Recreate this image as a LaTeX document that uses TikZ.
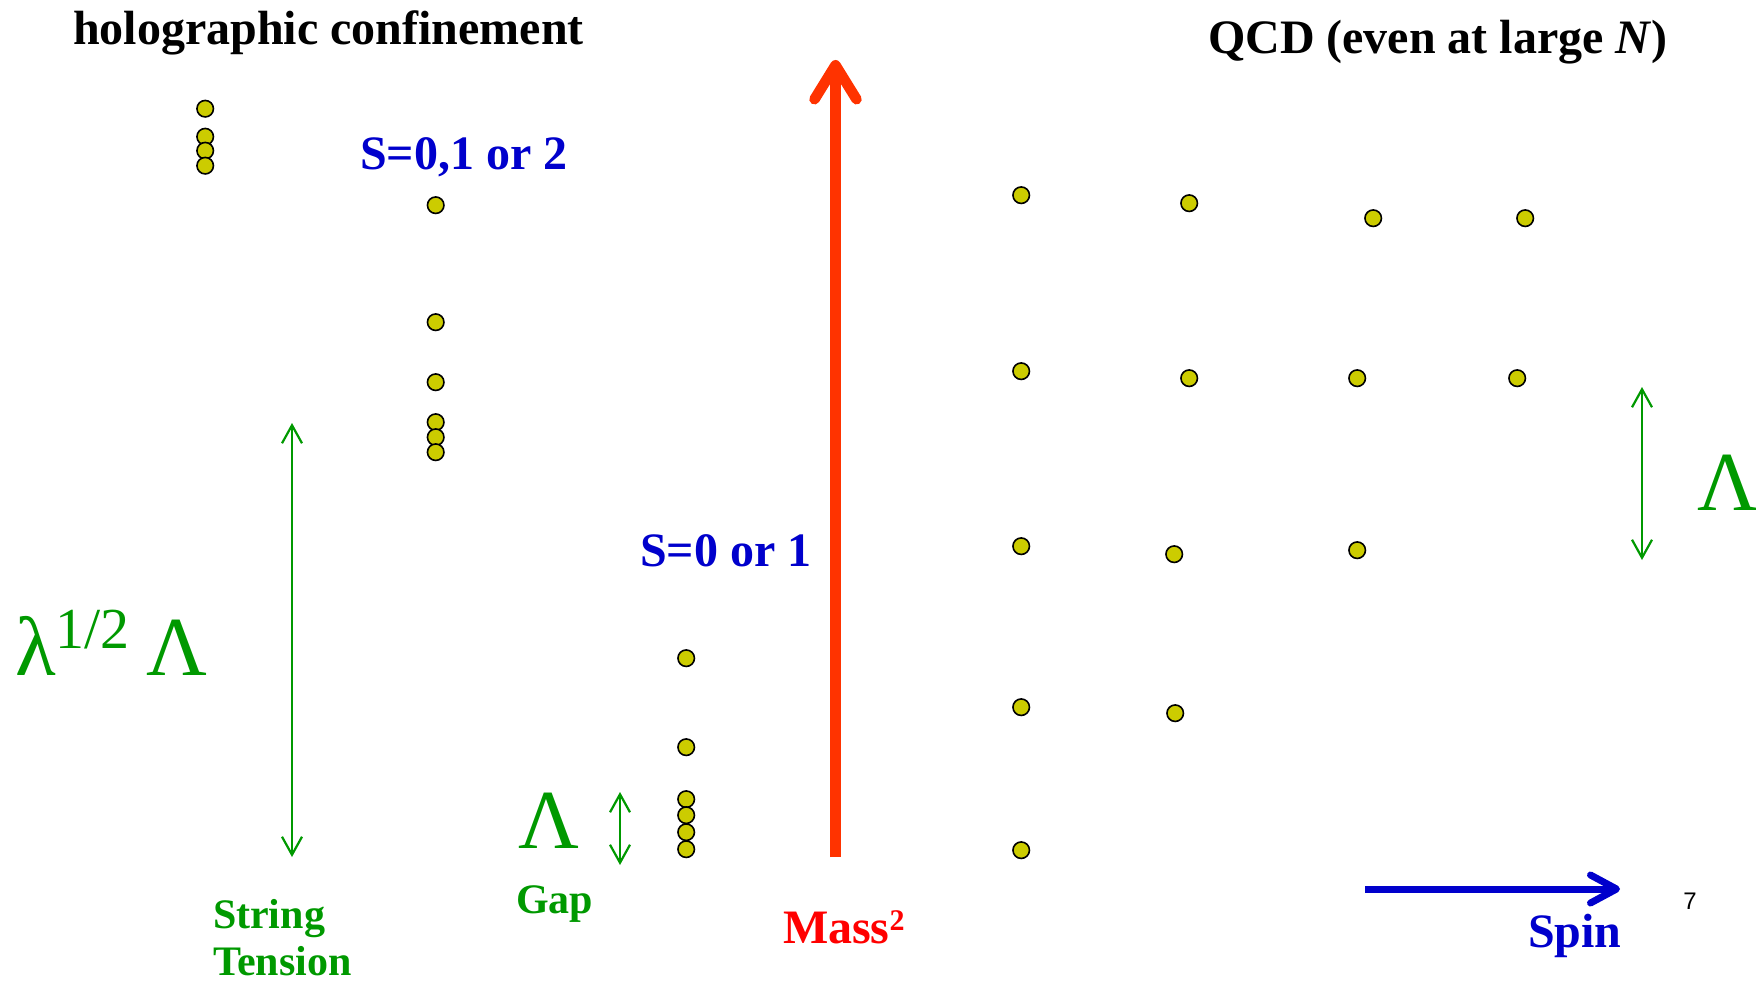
\documentclass[tikz,border=0pt]{standalone}
\usepackage{fontspec}
\setmainfont{Liberation Serif}
\newfontfamily\sansf{Liberation Sans}
\usetikzlibrary{arrows.meta}
\definecolor{dotyellow}{HTML}{CCCC00}
\definecolor{grn}{HTML}{009900}
\definecolor{blu}{HTML}{0000CC}
\definecolor{redarrow}{HTML}{FF3300}
\definecolor{redtext}{HTML}{FF0000}
\begin{document}
\begin{tikzpicture}[x=1pt,y=-1pt,
  dot/.style={circle, draw=black, fill=dotyellow, line width=1.6pt, minimum size=16.5pt, inner sep=0pt},
  lbl/.style={inner sep=0pt, outer sep=0pt, anchor=base west},
  bigtitle/.style={lbl, font=\fontsize{48}{56}\selectfont\bfseries},
  spinlbl/.style={bigtitle, text=blu},
  greek/.style={lbl, text=grn, font=\fontsize{84}{90}\selectfont},
  glbl/.style={lbl, text=grn, font=\fontsize{42}{47}\selectfont\bfseries},
  garrow/.style={draw=grn, line width=2.2pt, {Straight Barb[length=18pt,width=20pt]}-{Straight Barb[length=18pt,width=20pt]}},
  massarrow/.style={draw=redarrow, line width=10.5pt, -{Straight Barb[length=34pt,width=42pt,round]}},
  spinarrow/.style={draw=blu, line width=7pt, -{Straight Barb[length=26pt,width=28pt,round]}}
]
\useasboundingbox[fill=white] (0,0) rectangle (1756,984);

% titles
\node[bigtitle] (holo) at (73,45) {holographic confinement};
\node[bigtitle] (qcd) at (1208,54) {QCD (even at large \textit{N})};
\node[spinlbl] (s012) at (360,170) {S=0,1 or 2};
\node[spinlbl] (s01) at (640,566) {S=0 or 1};

\begin{scope}[shift={(1.2,1.2)}]
% left column
\node[dot] (a1) at (204,107.5) {};
\node[dot] (a2) at (204,135.5) {};
\node[dot] (a3) at (204,149.5) {};
\node[dot] (a4) at (204,164.5) {};
% second column
\node[dot] (b1) at (434.5,204) {};
\node[dot] (b2) at (434.5,321) {};
\node[dot] (b3) at (434.5,381) {};
\node[dot] (b4) at (434.5,421) {};
\node[dot] (b5) at (434.5,436) {};
\node[dot] (b6) at (434.5,451) {};
% third column
\node[dot] (c1) at (685,657) {};
\node[dot] (c2) at (685,746) {};
\node[dot] (c3) at (685,798) {};
\node[dot] (c4) at (685,814) {};
\node[dot] (c5) at (685,831) {};
\node[dot] (c6) at (685,848) {};
% QCD grid
\node[dot] (q11) at (1020,194) {};
\node[dot] (q12) at (1188,202) {};
\node[dot] (q13) at (1372,217) {};
\node[dot] (q14) at (1524,217) {};
\node[dot] (q21) at (1020,370) {};
\node[dot] (q22) at (1188,377) {};
\node[dot] (q23) at (1356,377) {};
\node[dot] (q24) at (1516,377) {};
\node[dot] (q31) at (1020,545) {};
\node[dot] (q32) at (1173,553) {};
\node[dot] (q33) at (1356,549) {};
\node[dot] (q41) at (1020,706) {};
\node[dot] (q42) at (1174,712) {};
\node[dot] (q51) at (1020,849) {};
\end{scope}

% green labels
\node[greek] (lam) at (15,675) {λ\raisebox{27pt}{\fontsize{58}{60}\selectfont 1/2}\hspace{17pt}Λ};
\node[greek] (lamgap) at (518,848) {Λ};
\node[greek] (lamqcd) at (1697,510) {Λ};
\node[glbl] (gap) at (516,913) {Gap};
\node[glbl, anchor=north west, align=left] (string) at (213,899) {String\\Tension};

% green arrows
\coordinate (st1) at (292,423);
\coordinate (st2) at (292,857);
\draw[garrow] (st1) -- (st2);
\coordinate (gp1) at (620,792);
\coordinate (gp2) at (620,865);
\draw[garrow] (gp1) -- (gp2);
\coordinate (qa1) at (1642,387);
\coordinate (qa2) at (1642,560);
\draw[garrow] (qa1) -- (qa2);

% mass axis
\coordinate (m1) at (835.5,857);
\coordinate (m2) at (835.5,60);
\draw[massarrow] (m1) -- (m2);
\node[lbl, text=redtext, font=\fontsize{48}{56}\selectfont\bfseries] (mass) at (783,943) {Mass\raisebox{13pt}{\fontsize{30}{30}\selectfont 2}};

% spin axis
\coordinate (sp1) at (1365,889);
\coordinate (sp2) at (1620,889);
\draw[spinarrow] (sp1) -- (sp2);
\node[spinlbl] (spin) at (1528,947) {Spin};

% page number
\node[inner sep=0pt, font=\sansf\fontsize{24}{26}\selectfont] (pg) at (1690,901) {7};
\end{tikzpicture}
\end{document}
